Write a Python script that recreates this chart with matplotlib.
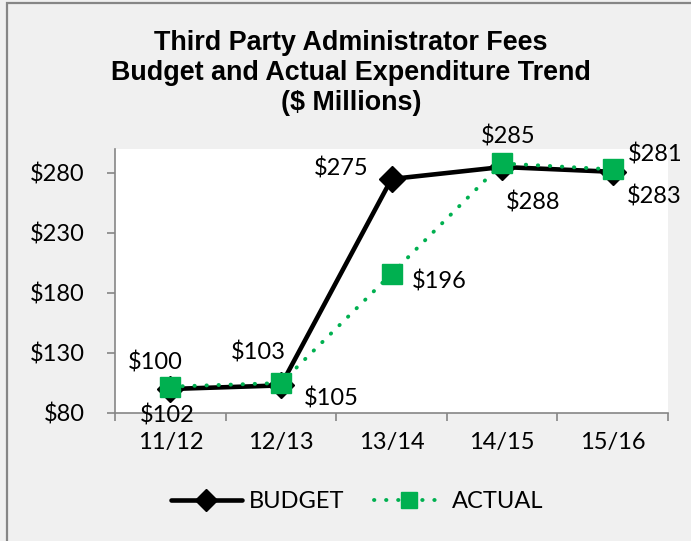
import matplotlib
matplotlib.use("Agg")
import matplotlib.pyplot as plt
from matplotlib.patches import Rectangle

categories = ["11/12", "12/13", "13/14", "14/15", "15/16"]
budget = [100, 103, 275, 285, 281]
actual = [102, 105, 196, 288, 283]
yticks = [80, 130, 180, 230, 280]
title = "Third Party Administrator Fees\nBudget and Actual Expenditure Trend\n($ Millions)"

W, H = 691, 541
fig = plt.figure(figsize=(W / 100, H / 100), dpi=100)
fig.patch.set_facecolor("#f0f0f0")

# outer border (top and left edges visible)
fig.add_artist(Rectangle((6.5 / W, -0.05), 1.2, 1 - 3.5 / H + 0.05, transform=fig.transFigure,
                         fill=False, edgecolor="#868686", linewidth=1.6))

left, right, top, bottom = 115, 668, 149, 413
ax = fig.add_axes([left / W, 1 - bottom / H, (right - left) / W, (bottom - top) / H])
ax.set_facecolor("white")

x = list(range(len(categories)))
green = "#00b050"
ax.plot(x, budget, color="black", lw=3.3, marker="D", ms=13, mec="black", mfc="black",
        solid_capstyle="round", zorder=3, label="BUDGET")
ax.plot(x, actual, color=green, lw=2.8, ls=(0, (0.1, 3.0)), dash_capstyle="round",
        marker="s", ms=14, mfc=green, mec=green, zorder=4, label="ACTUAL")

ax.set_xlim(-0.5, len(categories) - 0.5)
ax.set_ylim(80, 300)
ax.set_yticks(yticks)
ax.set_yticklabels([f"${v}" for v in yticks])
ax.set_xticks(x)
ax.set_xticklabels(categories)
ax.set_xticks([i - 0.5 for i in range(len(categories) + 1)], minor=True)

font = "Lato"
fs = 17
for lab in ax.get_yticklabels() + ax.get_xticklabels():
    lab.set_fontfamily(font)
    lab.set_fontsize(fs)
ax.tick_params(axis="y", which="major", length=6, width=1.2, color="#868686", pad=16)
ax.tick_params(axis="x", which="major", length=0, pad=14)
ax.tick_params(axis="x", which="minor", length=6, width=1.2, color="#868686")
for s in ["top", "right"]:
    ax.spines[s].set_visible(False)
for s in ["left", "bottom"]:
    ax.spines[s].set_color("#868686")
    ax.spines[s].set_linewidth(1.2)
ax.spines["bottom"].set_zorder(5)

# data labels
b_off = [(-15, 26), (-23, 33), (-50, 10), (6, 30), (42, 17)]
a_off = [(-3, -29), (50, -15), (48, -8), (31, -39), (42, -27)]
for i in x:
    ax.annotate(f"${budget[i]}", (i, budget[i]), xytext=b_off[i], textcoords="offset pixels",
                ha="center", va="center", fontsize=fs, family=font, zorder=6,
                annotation_clip=False)
    ax.annotate(f"${actual[i]}", (i, actual[i]), xytext=a_off[i], textcoords="offset pixels",
                ha="center", va="center", fontsize=fs, family=font, zorder=6,
                annotation_clip=False)

fig.text(351 / W, 1 - 73 / H, title, ha="center", va="center", fontsize=19.4,
         fontweight="bold", family="Liberation Sans", linespacing=1.22)

leg = fig.legend(loc="center", bbox_to_anchor=(357 / W, 1 - 502 / H), ncol=2, frameon=False,
                 prop={"family": font, "size": fs}, handlelength=3.0, columnspacing=1.25,
                 handletextpad=0.3, markerscale=0.85)

fig.savefig("out.png", dpi=100, facecolor=fig.get_facecolor())
